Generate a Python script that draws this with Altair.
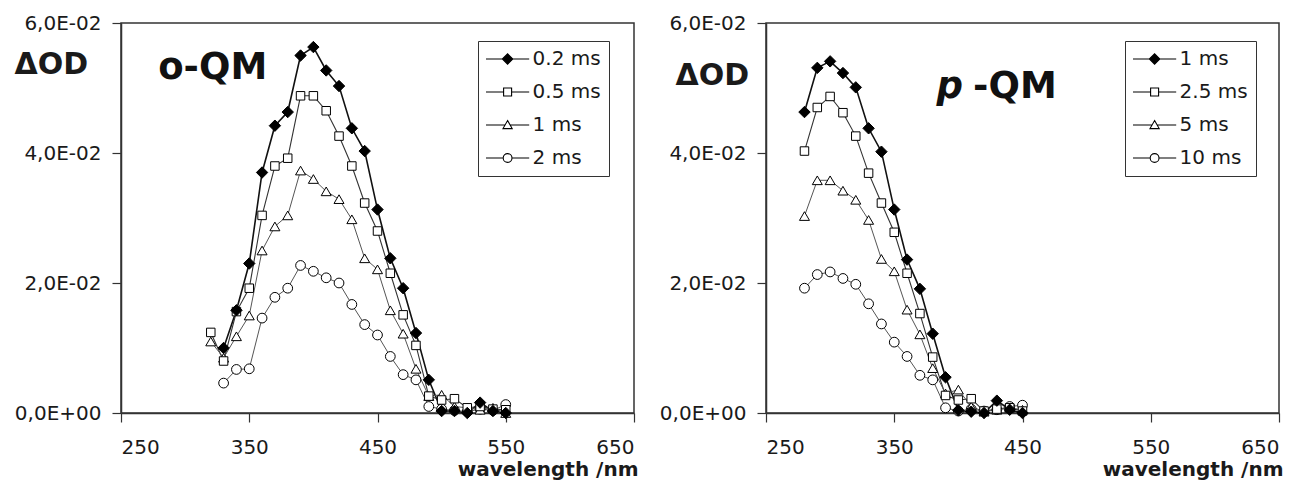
import altair as alt
import pandas as pd

# ---------------- data ----------------
wl_o = [320, 330, 340, 350, 360, 370, 380, 390, 400, 410, 420, 430,
        440, 450, 460, 470, 480, 490, 500, 510, 520, 530, 540, 550]
o_02 = [None, 0.0100, 0.0158, 0.0230, 0.0370, 0.0442, 0.0463, 0.0550, 0.0563, 0.0527, 0.0503, 0.0438,
        0.0403, 0.0313, 0.0238, 0.0192, 0.0123, 0.0051, 0.0003, 0.0003, 0.0000, 0.0016, 0.0003, 0.0000]
o_05 = [0.0124, 0.0080, 0.0156, 0.0192, 0.0304, 0.0380, 0.0392, 0.0488, 0.0488, 0.0465, 0.0426, 0.0380,
        0.0323, 0.0280, 0.0215, 0.0151, 0.0104, 0.0026, 0.0020, 0.0022, 0.0008, 0.0010, 0.0006, 0.0005]
o_1 = [0.0110, 0.0085, 0.0118, 0.0150, 0.0250, 0.0287, 0.0304, 0.0373, 0.0360, 0.0341, 0.0329, 0.0298,
       0.0238, 0.0221, 0.0158, 0.0122, 0.0068, 0.0026, 0.0028, 0.0010, 0.0008, 0.0005, 0.0008, 0.0000]
o_2 = [None, 0.0046, 0.0067, 0.0068, 0.0146, 0.0178, 0.0192, 0.0227, 0.0218, 0.0208, 0.0200, 0.0167,
       0.0136, 0.0120, 0.0087, 0.0059, 0.0051, 0.0010, 0.0006, 0.0004, 0.0002, 0.0006, 0.0004, 0.0013]
o_labels = ["0.2 ms", "0.5 ms", "1 ms", "2 ms"]

wl_p = [280, 290, 300, 310, 320, 330, 340, 350, 360, 370, 380, 390, 400, 410, 420, 430, 440, 450]
p_1 = [0.0463, 0.0531, 0.0541, 0.0523, 0.0501, 0.0438, 0.0402, 0.0313, 0.0236, 0.0191, 0.0122, 0.0055,
       0.0004, 0.0002, 0.0000, 0.0019, 0.0005, 0.0000]
p_25 = [0.0403, 0.0470, 0.0487, 0.0462, 0.0426, 0.0369, 0.0323, 0.0278, 0.0215, 0.0153, 0.0086, 0.0027,
        0.0020, 0.0022, 0.0003, 0.0006, 0.0008, 0.0003]
p_5 = [0.0303, 0.0358, 0.0358, 0.0342, 0.0328, 0.0297, 0.0237, 0.0218, 0.0159, 0.0121, 0.0069, 0.0030,
       0.0036, 0.0010, 0.0002, 0.0005, 0.0008, 0.0005]
p_10 = [0.0192, 0.0213, 0.0217, 0.0207, 0.0198, 0.0168, 0.0137, 0.0109, 0.0087, 0.0058, 0.0051, 0.0008,
        0.0003, 0.0006, 0.0003, 0.0005, 0.0010, 0.0012]
p_labels = ["1 ms", "2.5 ms", "5 ms", "10 ms"]

x_ticks = [250, 350, 450, 550, 650]
y_ticks = [0, 0.02, 0.04, 0.06]
y_tick_labels = ["0,0E+00", "2,0E-02", "4,0E-02", "6,0E-02"]

FONT = "DejaVu Sans"
TXT = "#1a1a1a"

marker_shapes = ["diamond", "square", "triangle-up", "circle"]
marker_fill = ["black", "white", "white", "white"]
marker_stroke = ["black", "black", "black", "black"]
marker_size = [130, 72, 100, 95]
line_colors = ["#111111", "#333333", "#555555", "#555555"]
line_widths = [1.6, 1.1, 1.0, 1.0]
# legend symbols: line stub + marker in one custom path
legend_paths = [
    "M-5.4,0L-1.3,0M-1.3,0L0,-1.3L1.3,0L0,1.3ZM1.3,0L5.4,0",
    "M-5.4,0L-1,0M-1,-1L1,-1L1,1L-1,1ZM1,0L5.4,0",
    "M-5.4,0L-0.6,0M0,-1.1L1.15,0.9L-1.15,0.9ZM0.6,0L5.4,0",
    "M-5.4,0L-1.1,0M1.1,0A1.1,1.1,0,1,1,-1.1,0A1.1,1.1,0,1,1,1.1,0ZM1.1,0L5.4,0",
]


def long_df(wl, series, labels):
    rows = []
    for vals, lab in zip(series, labels):
        for w, v in zip(wl, vals):
            if v is not None:
                rows.append({"wl": w, "value": v, "series": lab})
    return pd.DataFrame(rows)


ylabel_expr = ""
for v, lab in zip(y_ticks, y_tick_labels):
    ylabel_expr += f"abs(datum.value - {v}) < 1e-6 ? '{lab}' : "
ylabel_expr += "''"


def make_panel(df, labels, title_x, title_y, leg_x, texts):
    xenc = alt.X("wl:Q", scale=alt.Scale(domain=[250, 650], nice=False, zero=False),
                 axis=alt.Axis(values=x_ticks, format="d", labelPadding=15,
                               title="wavelength /nm", titleFont=FONT, titleFontWeight="bold",
                               titleFontSize=20, titleColor=TXT, titleAlign="right",
                               titleBaseline="alphabetic", titleX=517, titleY=62))
    yenc = alt.Y("value:Q", scale=alt.Scale(domain=[0, 0.06], nice=False),
                 axis=alt.Axis(values=y_ticks, labelExpr=ylabel_expr, labelPadding=11,
                               title="ΔOD", titleAngle=0, titleFont=FONT, titleFontWeight="bold",
                               titleFontSize=30, titleColor=TXT, titleAlign="left",
                               titleBaseline="top", titleX=title_x, titleY=title_y))
    layers = []
    for i in range(len(labels)):
        layers.append(
            alt.Chart(df).transform_filter(alt.datum.series == labels[i]).mark_line(
                color=line_colors[i], strokeWidth=line_widths[i]
            ).encode(x=xenc, y=yenc)
        )
    for i in reversed(range(len(labels))):
        layers.append(
            alt.Chart(df).transform_filter(alt.datum.series == labels[i]).mark_point(
                shape=marker_shapes[i], filled=True, fill=marker_fill[i], stroke="black",
                strokeWidth=1, size=marker_size[i], opacity=1
            ).encode(x=xenc, y=yenc)
        )
    legend = alt.Legend(orient="none", legendX=leg_x, legendY=18, title=None, padding=8,
                        strokeColor="#333333", fillColor="white", rowPadding=13,
                        symbolSize=64, symbolOffset=11.6, labelOffset=15,
                        symbolStrokeWidth=1.1, symbolOpacity=1,
                        labelFont=FONT, labelFontSize=20, labelColor=TXT, labelLimit=0)
    dummy = alt.Chart(df).mark_point(filled=True, strokeWidth=1.1, opacity=0).encode(
        x=xenc, y=yenc,
        shape=alt.Shape("series:N", scale=alt.Scale(domain=labels, range=legend_paths), legend=legend),
        fill=alt.Fill("series:N", scale=alt.Scale(domain=labels, range=marker_fill), legend=legend),
        stroke=alt.Stroke("series:N", scale=alt.Scale(domain=labels, range=marker_stroke),
                          legend=legend),
    )
    layers.append(dummy)
    for t in texts:
        tdf = pd.DataFrame([t])
        layers.append(
            alt.Chart(tdf).mark_text(align="left", baseline="alphabetic", font=FONT,
                                     fontWeight="bold", fontStyle=t["style"], fontSize=37,
                                     color="#111111").encode(x=xenc, y=yenc, text="text:N")
        )
    return alt.layer(*layers).properties(width=513, height=390)


df_o = long_df(wl_o, [o_02, o_05, o_1, o_2], o_labels)
df_p = long_df(wl_p, [p_1, p_25, p_5, p_10], p_labels)

left = make_panel(df_o, o_labels, -107, 26, 357,
                  [{"wl": 279, "value": 0.0514, "text": "o-QM", "style": "normal"}])
right = make_panel(df_p, p_labels, -91, 37, 359,
                   [{"wl": 383, "value": 0.0484, "text": "p", "style": "italic"},
                    {"wl": 411.5, "value": 0.0484, "text": "-QM", "style": "normal"}])

chart = alt.hconcat(left, right, spacing=19).resolve_scale(
    shape="independent", fill="independent", stroke="independent"
).resolve_legend(
    shape="independent", fill="independent", stroke="independent"
).properties(
    padding={"left": 5, "top": 4, "right": 0, "bottom": 0}
).configure_view(stroke="#333333", strokeWidth=1.5).configure_axis(
    grid=False, domainColor="#333333", domainWidth=1.5, tickColor="#333333", tickWidth=1.2,
    tickSize=9, labelFont=FONT, labelFontSize=20, labelColor=TXT
)

chart.save("out.html", embed_options={"renderer": "svg", "actions": False})
